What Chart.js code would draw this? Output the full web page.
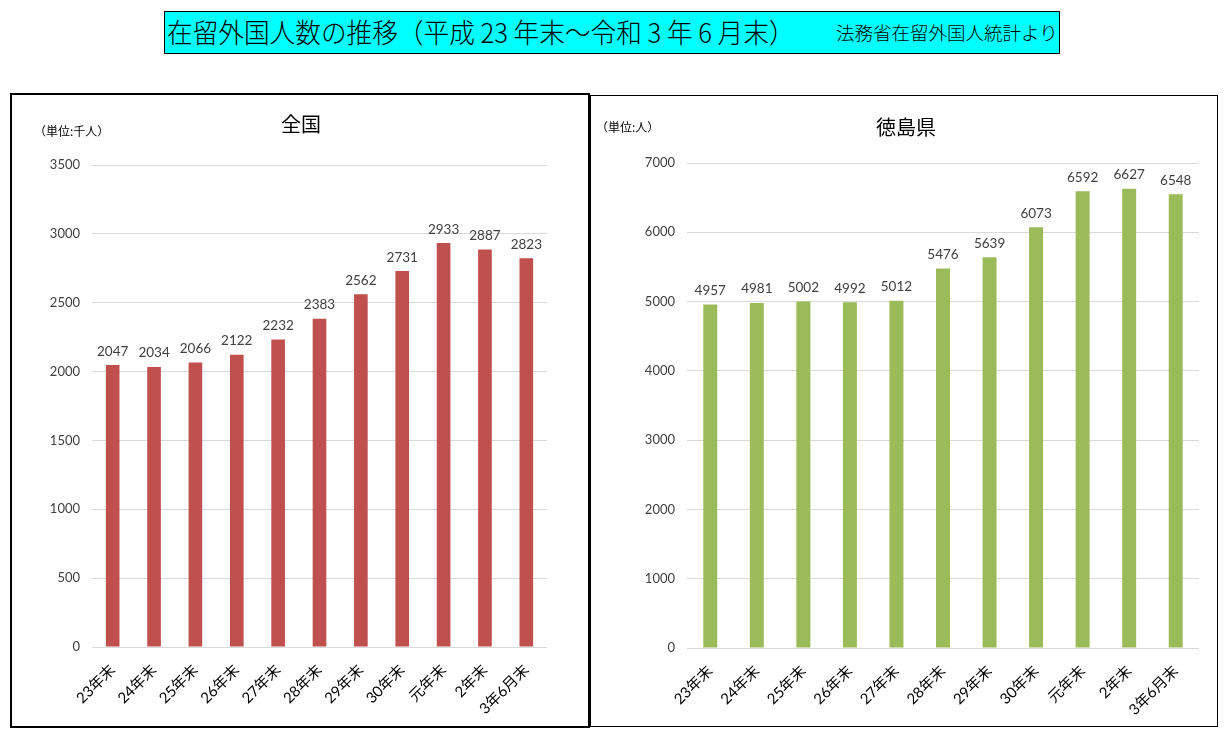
<!DOCTYPE html>
<html lang="ja">
<head>
<meta charset="utf-8">
<script src="https://cdn.jsdelivr.net/npm/chart.js@4/dist/chart.umd.min.js"></script>
<style>
  body { margin: 0; width: 1229px; height: 737px; background: #fff; position: relative; overflow: hidden;
         font-family: 'Noto Sans CJK JP', sans-serif; }
  .abs { position: absolute; }
  #banner { left: 164px; top: 11px; width: 894px; height: 41px; background: #00ffff; border: 1px solid #000; }
  #banner .main { left: 2px; top: 2px; font-size: 27px; line-height: 36px; color: #000; white-space: nowrap;
                  font-weight: 300; transform: scaleX(0.95); transform-origin: left center; }
  #banner .src { left: 671px; top: 8px; font-size: 18.5px; line-height: 24px; color: #000; white-space: nowrap; font-weight: 300; }
  #boxL { left: 10px; top: 93px; width: 576px; height: 631px; border: 2px solid #000; }
  #boxR { left: 590px; top: 95px; width: 626px; height: 630px; border: 1px solid #000; }
  .ttl { font-size: 20px; color: #000; white-space: nowrap; transform: translate(-50%, -50%); }
  .unit { font-size: 12px; color: #000; white-space: nowrap; transform: translateY(-50%); }
</style>
</head>
<body>
<div id="banner" class="abs">
  <div class="abs main">在留外国人数の推移（平成 23 年末～令和 3 年 6 月末）</div>
  <div class="abs src">法務省在留外国人統計より</div>
</div>
<div id="boxL" class="abs"></div>
<div id="boxR" class="abs"></div>
<canvas id="chart-all" class="abs" width="575" height="630" style="left:12px;top:95px;width:575px;height:630px"></canvas>
<canvas id="chart-tok" class="abs" width="626" height="630" style="left:591px;top:96px;width:626px;height:630px"></canvas>
<div class="abs ttl" style="left:301px;top:123px">全国</div>
<div class="abs unit" style="left:34px;top:130px">（単位:千人）</div>
<div class="abs ttl" style="left:906px;top:126px">徳島県</div>
<div class="abs unit" style="left:596px;top:126px">（単位:人）</div>
<script>
// 年末ごとのラベル
const labels = ['23年末', '24年末', '25年末', '26年末', '27年末', '28年末', '29年末', '30年末', '元年末', '2年末', '3年6月末'];

// 全国 (千人)
const zenkoku = [2047, 2034, 2066, 2122, 2232, 2383, 2562, 2731, 2933, 2887, 2823];

// 徳島県 (人)
const tokushima = [4957, 4981, 5002, 4992, 5012, 5476, 5639, 6073, 6592, 6627, 6548];

const numFont = "Lato, 'Noto Sans CJK JP', sans-serif";

// bar value labels
const valueLabels = {
    id: 'valueLabels',
    afterDatasetsDraw(chart) {
        const ctx = chart.ctx;
        const meta = chart.getDatasetMeta(0);
        const data = chart.data.datasets[0].data;
        ctx.save();
        ctx.font = '13.5px ' + numFont;
        ctx.fillStyle = '#404040';
        ctx.textAlign = 'center';
        ctx.textBaseline = 'bottom';
        meta.data.forEach((bar, i) => {
            ctx.fillText(data[i], bar.x, bar.y - 7);
        });
        ctx.restore();
    }
};

function makeChart(id, values, color, max, step, pad, yWidth, barPct) {
    const ctx = document.getElementById(id).getContext('2d');
    return new Chart(ctx, {
        type: 'bar',
        data: {
            labels: labels,
            datasets: [{
                data: values,
                backgroundColor: color,
                barPercentage: barPct,
                categoryPercentage: 1
            }]
        },
        options: {
            responsive: false,
            animation: false,
            devicePixelRatio: 1,
            layout: { padding: pad },
            plugins: { legend: { display: false }, tooltip: { enabled: false } },
            scales: {
                x: {
                    grid: { display: false },
                    border: { display: false },
                    ticks: {
                        minRotation: 45, maxRotation: 45, padding: 6,
                        color: '#000',
                        font: { family: numFont, size: 15 }
                    },
                    afterFit: (s) => { s.height = 78; }
                },
                y: {
                    min: 0, max: max,
                    border: { display: false },
                    grid: { color: '#d9d9d9', lineWidth: 1, drawTicks: false },
                    ticks: {
                        stepSize: step, padding: 12,
                        color: '#404040',
                        font: { family: numFont, size: 13 },
                        callback: (v) => String(v)
                    },
                    afterFit: (s) => { s.width = yWidth; }
                }
            }
        },
        plugins: [valueLabels]
    });
}

makeChart('chart-all', zenkoku, '#c0504d', 3500, 500,
    { top: 70, right: 40, bottom: 0, left: 0 }, 80, 0.33);
makeChart('chart-tok', tokushima, '#9bbb59', 7000, 1000,
    { top: 67, right: 18, bottom: 0, left: 0 }, 96, 0.3);
</script>
</body>
</html>
